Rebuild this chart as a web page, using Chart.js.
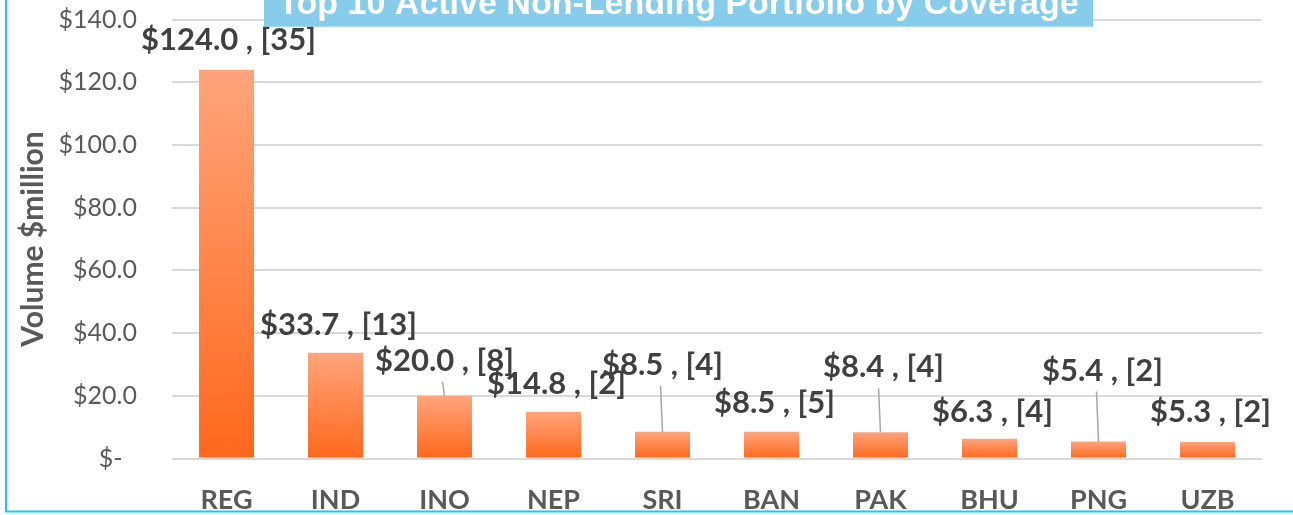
<!DOCTYPE html>
<html>
<head>
<meta charset="utf-8">
<title>Top 10 Active Non-Lending Portfolio by Coverage</title>
<script src="https://cdn.jsdelivr.net/npm/chart.js@4.4.1/dist/chart.umd.min.js"></script>
<style>
  html, body { margin: 0; padding: 0; background: #ffffff; }
  #wrap { position: relative; width: 1293px; height: 515px; }
</style>
</head>
<body>
<div id="wrap"><canvas id="chart"></canvas></div>
<script>
// chart data
const chartTitle = "Top 10 Active Non-Lending Portfolio by Coverage";
const axisTitle = "Volume $million";
const countries = ["REG", "IND", "INO", "NEP", "SRI", "BAN", "PAK", "BHU", "PNG", "UZB"];
const volumes = [124.0, 33.7, 20.0, 14.8, 8.5, 8.5, 8.4, 6.3, 5.4, 5.3];
const projectCounts = [35, 13, 8, 2, 4, 5, 4, 4, 2, 2];
const yTicks = [0, 20, 40, 60, 80, 100, 120, 140];

// where each data label sits relative to its bar top: [dx, baseline dy, leader line]
const labelPlacement = [
  [2, -20, false], [3, -18, false], [0, -25, true], [3, -18, false], [0, -57, true],
  [3, -19, false], [3, -55, true], [3, -17, false], [4, -61, true], [3, -20, false]
];

const GREY = "#595959";
const LABEL = "#404040";

function barFill(c) {
  const chart = c.chart;
  if (!chart.chartArea || !chart.scales.y) return "#FF7A3A";
  const y = chart.scales.y;
  const top = y.getPixelForValue(c.raw);
  const bottom = y.getPixelForValue(0);
  const g = chart.ctx.createLinearGradient(0, top, 0, bottom);
  g.addColorStop(0, "#FFA47C");
  g.addColorStop(1, "#FF681C");
  return g;
}

const extras = {
  id: "extras",
  afterDatasetsDraw(chart) {
    const ctx = chart.ctx;
    const meta = chart.getDatasetMeta(0);
    ctx.save();
    ctx.font = "bold 31px Lato";
    ctx.fillStyle = LABEL;
    ctx.textAlign = "center";
    ctx.textBaseline = "alphabetic";
    meta.data.forEach((bar, i) => {
      const p = labelPlacement[i];
      const text = "$" + volumes[i].toFixed(1) + " , [" + projectCounts[i] + "]";
      const by = bar.y + p[1];
      ctx.fillText(text, bar.x + p[0], by);
      if (p[2]) {
        ctx.strokeStyle = "#A6A6A6";
        ctx.lineWidth = 1.5;
        ctx.beginPath();
        ctx.moveTo(bar.x - 2, by + 11);
        ctx.lineTo(bar.x, bar.y);
        ctx.stroke();
      }
    });
    ctx.restore();
  },
  afterDraw(chart) {
    const ctx = chart.ctx;
    ctx.save();
    // title box, cut off by the top edge
    ctx.fillStyle = "#87CDEB";
    ctx.fillRect(264, -10, 829, 36.7);
    ctx.fillStyle = "#ffffff";
    ctx.font = "bold 34px 'Liberation Sans', Arial, sans-serif";
    ctx.textAlign = "center";
    ctx.textBaseline = "alphabetic";
    ctx.fillText(chartTitle, 678.5, 13.5);
    // frame
    ctx.strokeStyle = "#1CC8F2";
    ctx.lineWidth = 2;
    ctx.beginPath();
    ctx.moveTo(6, 0);
    ctx.lineTo(6, 511.5);
    ctx.lineTo(1293, 511.5);
    ctx.stroke();
    ctx.restore();
  }
};

new Chart(document.getElementById("chart"), {
  type: "bar",
  data: {
    labels: countries,
    datasets: [{
      data: volumes,
      backgroundColor: barFill,
      borderWidth: 0,
      barPercentage: 0.505,
      categoryPercentage: 1.0
    }]
  },
  options: {
    responsive: true,
    maintainAspectRatio: false,
    animation: false,
    layout: { padding: { top: 19.5, right: 31, bottom: 0, left: 0 } },
    plugins: {
      legend: { display: false },
      tooltip: { enabled: false },
      title: { display: false }
    },
    scales: {
      x: {
        grid: { display: false, drawTicks: false },
        border: { display: false },
        ticks: {
          color: GREY,
          font: { family: "Lato", size: 27, weight: "bold" },
          padding: 26,
          maxRotation: 0,
          autoSkip: false
        },
        afterFit(scale) { scale.height = 56.5; }
      },
      y: {
        min: yTicks[0],
        max: yTicks[yTicks.length - 1],
        afterBuildTicks(scale) { scale.ticks = yTicks.map(v => ({ value: v })); },
        grid: { color: "#D9D9D9", lineWidth: 2, drawTicks: false },
        border: { display: false },
        ticks: {
          color: GREY,
          font: { family: "Lato", size: 25 },
          padding: 35,
          callback: v => v === 0 ? "$-\u2007" : "$" + Number(v).toFixed(1)
        },
        title: {
          display: true,
          text: axisTitle,
          color: GREY,
          font: { family: "Lato", size: 30, weight: "bold" },
          padding: { top: 15, bottom: 0 }
        },
        afterFit(scale) {
          scale.width = 172;
          scale.paddingTop = 0;
          scale.paddingBottom = 0;
        }
      }
    }
  },
  plugins: [extras]
});
</script>
</body>
</html>
